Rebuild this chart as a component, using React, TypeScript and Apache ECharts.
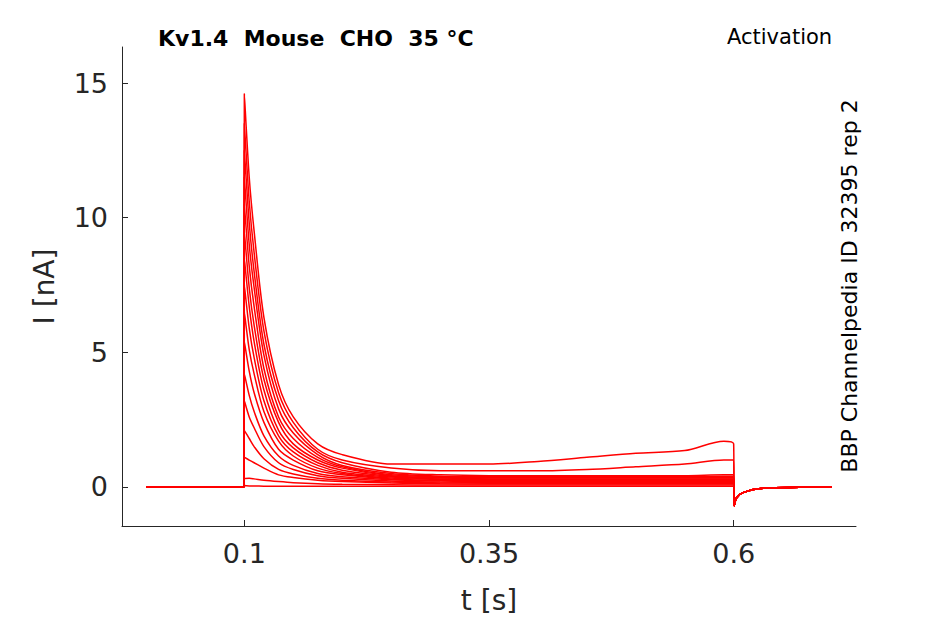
import React from 'react';
import * as echarts from 'echarts';

const preTimes = [0, 0.0995];
const stepTimes = [0.1, 0.105, 0.11, 0.12, 0.135, 0.15, 0.175, 0.2, 0.25, 0.3, 0.35, 0.4, 0.45, 0.5, 0.55, 0.59, 0.6];
const tailTimes = [0.6005, 0.603, 0.61, 0.63, 0.7];
const tailValues = [-0.7, -0.4, -0.2, -0.05, 0];

const sweeps: number[][] = [
  [14.6, 11.5, 9.5, 6.3, 3.8, 2.6, 1.6, 1.2, 0.85, 0.85, 0.85, 0.95, 1.1, 1.25, 1.35, 1.7, 1.6],
  [13.5, 10.6, 8.7, 5.8, 3.5, 2.4, 1.4, 1.0, 0.7, 0.6, 0.6, 0.6, 0.65, 0.75, 0.85, 1.0, 1.0],
  [12.5, 9.8, 8.0, 5.3, 3.2, 2.2, 1.3, 0.9, 0.55, 0.45, 0.42, 0.42, 0.42, 0.42, 0.42, 0.45, 0.45],
  [11.5, 9.0, 7.4, 4.9, 2.9, 2.0, 1.2, 0.8, 0.5, 0.4, 0.38, 0.38, 0.38, 0.38, 0.38, 0.4, 0.4],
  [10.5, 8.2, 6.7, 4.4, 2.6, 1.8, 1.1, 0.75, 0.45, 0.37, 0.35, 0.35, 0.35, 0.35, 0.35, 0.35, 0.35],
  [9.5, 7.4, 6.0, 4.0, 2.4, 1.6, 1.0, 0.7, 0.42, 0.35, 0.33, 0.33, 0.33, 0.33, 0.33, 0.33, 0.33],
  [8.5, 6.7, 5.4, 3.6, 2.1, 1.45, 0.9, 0.62, 0.4, 0.33, 0.3, 0.3, 0.3, 0.3, 0.3, 0.3, 0.3],
  [7.5, 5.9, 4.8, 3.2, 1.9, 1.3, 0.8, 0.55, 0.37, 0.3, 0.28, 0.28, 0.28, 0.28, 0.28, 0.28, 0.28],
  [6.5, 5.1, 4.2, 2.8, 1.7, 1.15, 0.7, 0.5, 0.33, 0.28, 0.26, 0.26, 0.26, 0.26, 0.26, 0.26, 0.26],
  [5.4, 4.3, 3.5, 2.4, 1.4, 1.0, 0.6, 0.45, 0.3, 0.25, 0.24, 0.24, 0.24, 0.24, 0.24, 0.24, 0.24],
  [4.2, 3.4, 2.8, 1.9, 1.15, 0.8, 0.5, 0.38, 0.27, 0.22, 0.2, 0.2, 0.2, 0.2, 0.2, 0.2, 0.2],
  [3.2, 2.6, 2.2, 1.5, 0.9, 0.65, 0.42, 0.32, 0.22, 0.18, 0.17, 0.17, 0.17, 0.17, 0.17, 0.17, 0.17],
  [2.1, 1.8, 1.5, 1.05, 0.65, 0.48, 0.32, 0.25, 0.18, 0.15, 0.14, 0.14, 0.14, 0.14, 0.14, 0.14, 0.14],
  [1.1, 1.0, 0.9, 0.7, 0.45, 0.35, 0.25, 0.2, 0.15, 0.12, 0.11, 0.11, 0.11, 0.11, 0.11, 0.11, 0.11],
  [0.3, 0.32, 0.3, 0.25, 0.2, 0.16, 0.12, 0.1, 0.08, 0.07, 0.07, 0.07, 0.07, 0.07, 0.07, 0.07, 0.07],
  [0.05, 0.04, 0.04, 0.03, 0.03, 0.03, 0.03, 0.03, 0.03, 0.03, 0.03, 0.03, 0.03, 0.03, 0.03, 0.03, 0.03],
];

const xTicks = [0.1, 0.35, 0.6];
const yTicks = [0, 5, 10, 15];

const font = 'DejaVu Sans';
const ink = '#262626';

export default function App() {
  const ref = React.useRef<HTMLDivElement>(null);

  React.useEffect(() => {
    if (!ref.current) return;
    const chart = echarts.init(ref.current, null, { renderer: 'svg' });

    const series = sweeps.map((vals) => ({
      type: 'line',
      symbol: 'none',
      smooth: 0.3,
      lineStyle: { color: '#ff0000', width: 1.5 },
      data: [
        ...preTimes.map((t) => [t, 0]),
        ...stepTimes.map((t, i) => [t, vals[i]]),
        ...tailTimes.map((t, i) => [t, tailValues[i]]),
      ],
    }));

    chart.setOption({
      animation: false,
      grid: { left: 122, right: 89, top: 47, bottom: 98 },
      xAxis: {
        type: 'value',
        min: -0.025,
        max: 0.725,
        name: 't [s]',
        nameLocation: 'middle',
        nameGap: 60,
        nameTextStyle: { fontSize: 28, color: ink, fontFamily: font },
        axisLine: { onZero: false, lineStyle: { color: ink } },
        axisTick: { show: true, inside: true, length: 6, customValues: xTicks, lineStyle: { color: ink } },
        axisLabel: { customValues: xTicks, fontSize: 27, color: ink, fontFamily: font, margin: 14 },
        splitLine: { show: false },
      },
      yAxis: {
        type: 'value',
        min: -1.45,
        max: 16.34,
        name: 'I [nA]',
        nameLocation: 'middle',
        nameGap: 64,
        nameTextStyle: { fontSize: 28, color: ink, fontFamily: font },
        axisLine: { show: true, onZero: false, lineStyle: { color: ink } },
        axisTick: { show: true, inside: true, length: 6, customValues: yTicks, lineStyle: { color: ink } },
        axisLabel: { customValues: yTicks, fontSize: 27, color: ink, fontFamily: font, margin: 14 },
        splitLine: { show: false },
      },
      graphic: [
        { type: 'text', left: 158, top: 27, style: { text: 'Kv1.4  Mouse  CHO  35 °C', fontSize: 22, fontWeight: 'bold', fill: '#000', fontFamily: font } },
        { type: 'text', left: 727, top: 26, style: { text: 'Activation', fontSize: 21, fill: '#000', fontFamily: font } },
        {
          type: 'text', x: 838, y: 286, rotation: Math.PI / 2,
          style: { text: 'BBP Channelpedia ID 32395 rep 2', fontSize: 22, fill: '#000', fontFamily: font, align: 'center', verticalAlign: 'top' },
        },
      ],
      series,
    });

    return () => chart.dispose();
  }, []);

  return <div ref={ref} style={{ position: 'fixed', left: 0, top: 0, width: 945, height: 624, background: '#fff' }} />;
}
